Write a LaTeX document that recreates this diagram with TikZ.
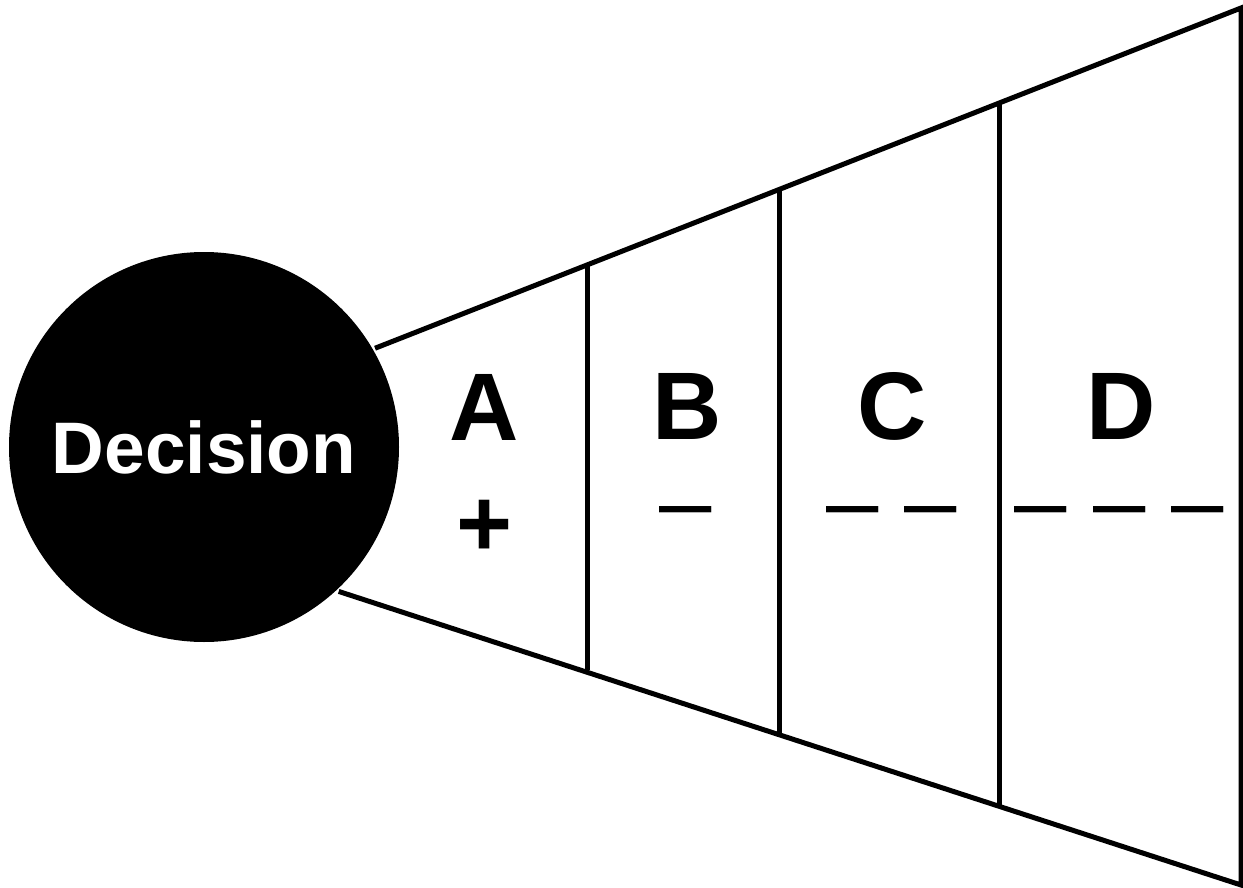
\documentclass[tikz,border=0pt]{standalone}
\usepackage{fontspec}
\setmainfont{Liberation Sans}
\begin{document}
\begin{tikzpicture}[x=0.5pt, y=-0.5pt, line width=2.5pt,
    main node/.style={circle, fill=black, inner sep=0pt, minimum size=195pt, text=white, font=\fontsize{36.5}{40}\selectfont\bfseries},
    letter node/.style={anchor=base, inner sep=0pt, font=\fontsize{48}{52}\selectfont\bfseries},
    sign node/.style={anchor=base, inner sep=0pt, font=\fontsize{47}{52}\selectfont}]

    \useasboundingbox (0,0) rectangle (1243,888);

    % la decision
    \node[main node] (dec) at (204,447) {Decision};

    % coins du cone
    \coordinate (t1) at (587,265.7);
    \coordinate (t2) at (779,190);
    \coordinate (t3) at (999,103.5);
    \coordinate (tr) at (1241,8);
    \coordinate (b1) at (587,670);
    \coordinate (b2) at (779,733);
    \coordinate (b3) at (999,805.5);
    \coordinate (br) at (1241,885);

    \draw[miter limit=10] (dec.30) -- (tr) -- (br) -- (dec.-47);
    \draw (t1) -- (b1);
    \draw (t2) -- (b2);
    \draw (t3) -- (b3);

    % les options
    \node[letter node] (la) at (484.5,440) {A};
    \node[letter node] (lb) at (687.5,439) {B};
    \node[letter node] (lc) at (892,439) {C};
    \node[letter node] (ld) at (1121,439) {D};

    % les signes
    \node[sign node, font=\fontsize{48}{52}\selectfont\bfseries] (sa) at (484.5,556) {+};
    \node[sign node] (sb) at (686,533) {–};
    \node[sign node] (sc) at (891.5,533) {– –};
    \node[sign node] (sd) at (1119.5,533) {– – –};
\end{tikzpicture}
\end{document}
